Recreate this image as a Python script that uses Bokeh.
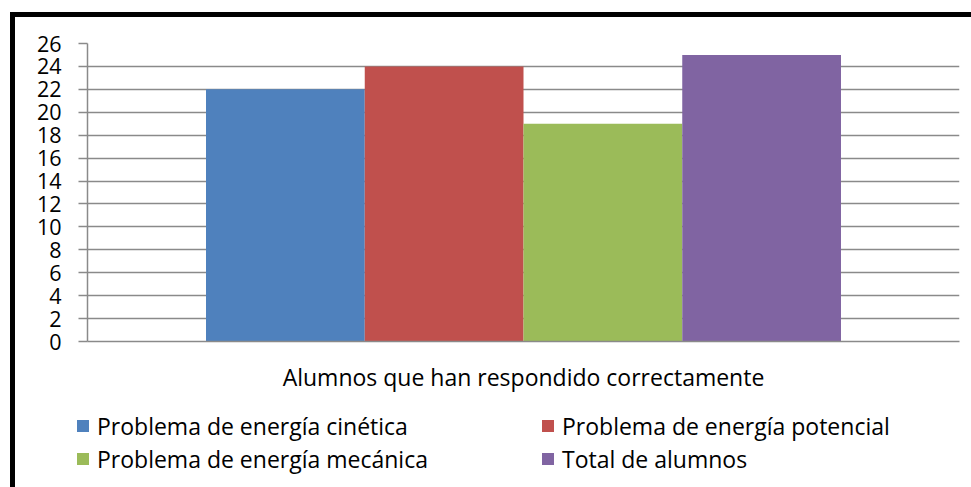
from bokeh.plotting import figure
from bokeh.layouts import column
from bokeh.models import Range1d, FixedTicker, Legend, LegendItem
from bokeh.embed import file_html
from bokeh.resources import INLINE

# Data
category = "Alumnos que han respondido correctamente"
series = [
    "Problema de energía cinética",
    "Problema de energía potencial",
    "Problema de energía mecánica",
    "Total de alumnos",
]
values = [22, 24, 19, 25]
colors = ["#4F81BD", "#C0504D", "#9BBB59", "#8064A2"]
y_ticks = list(range(0, 27, 2))

FONT = "Open Sans"
GRID = "#8a8a8a"

n = len(series)
center = (n - 1) / 2
half_span = 2.7465

W = 976

# --- chart figure -------------------------------------------------------
p = figure(
    width=W, height=383,
    output_backend="svg", toolbar_location=None,
    x_range=Range1d(center - half_span, center + half_span),
    y_range=Range1d(0, 26),
    min_border_left=72, min_border_right=32,
    min_border_top=26, min_border_bottom=59,
)
p.outline_line_color = None
p.border_fill_color = "white"

for i, (v, c) in enumerate(zip(values, colors)):
    p.vbar(x=[i], top=[v], width=1.0, fill_color=c, line_color=None)

p.yaxis.ticker = FixedTicker(ticks=y_ticks)
p.yaxis.axis_line_color = GRID
p.yaxis.axis_line_width = 1.5
p.yaxis.major_tick_line_color = GRID
p.yaxis.major_tick_line_width = 1.5
p.yaxis.major_tick_out = 9
p.yaxis.major_tick_in = 0
p.yaxis.minor_tick_line_color = None
p.yaxis.major_label_standoff = 17
p.yaxis.major_label_text_font = FONT
p.yaxis.major_label_text_font_size = "21.5px"
p.yaxis.major_label_text_color = "black"
p.ygrid.ticker = FixedTicker(ticks=y_ticks)
p.ygrid.grid_line_color = GRID
p.ygrid.grid_line_width = 1.5
p.xgrid.visible = False

p.xaxis.ticker = FixedTicker(ticks=[center])
p.xaxis.major_label_overrides = {center: category}
p.xaxis.axis_line_color = GRID
p.xaxis.axis_line_width = 1.5
p.xaxis.major_tick_line_color = None
p.xaxis.major_tick_out = 0
p.xaxis.major_tick_in = 0
p.xaxis.minor_tick_line_color = None
p.xaxis.major_label_standoff = 19
p.xaxis.major_label_text_font = FONT
p.xaxis.major_label_text_font_size = "23px"
p.xaxis.major_label_text_color = "black"

# --- legend strip ---------------------------------------------------------
lg = figure(
    width=W, height=107,
    output_backend="svg", toolbar_location=None,
    x_range=Range1d(0, 1), y_range=Range1d(0, 1),
    min_border=0,
)
lg.frame_align = False
lg.axis.visible = False
lg.grid.visible = False
lg.outline_line_color = None
lg.border_fill_color = "white"

handles = []
for i, (name, v, c) in enumerate(zip(series, values, colors)):
    r = lg.vbar(x=[i], top=[v], width=1.0, fill_color=c, line_color=None, visible=False)
    handles.append((name, r))

# items fill column by column: left column cinética / mecánica
order = [0, 2, 1, 3]
legend = Legend(
    items=[LegendItem(label=handles[k][0], renderers=[handles[k][1]]) for k in order],
    ncols=2,
    location=(60, 32),
    glyph_width=15, glyph_height=15,
    label_standoff=7,
    label_width=443,
    label_height=33,
    spacing=0,
    padding=0, margin=0,
    border_line_color=None,
    background_fill_alpha=0,
    inactive_fill_alpha=0,
    label_text_font=FONT,
    label_text_font_size="23px",
    label_text_color="black",
)
lg.add_layout(legend)

layout = column(
    p, lg, spacing=0,
    margin=(12, 0, 0, 10),
    styles={"border-left": "5px solid black", "border-top": "5px solid black"},
)

open("out.html", "w").write(file_html(layout, INLINE))
